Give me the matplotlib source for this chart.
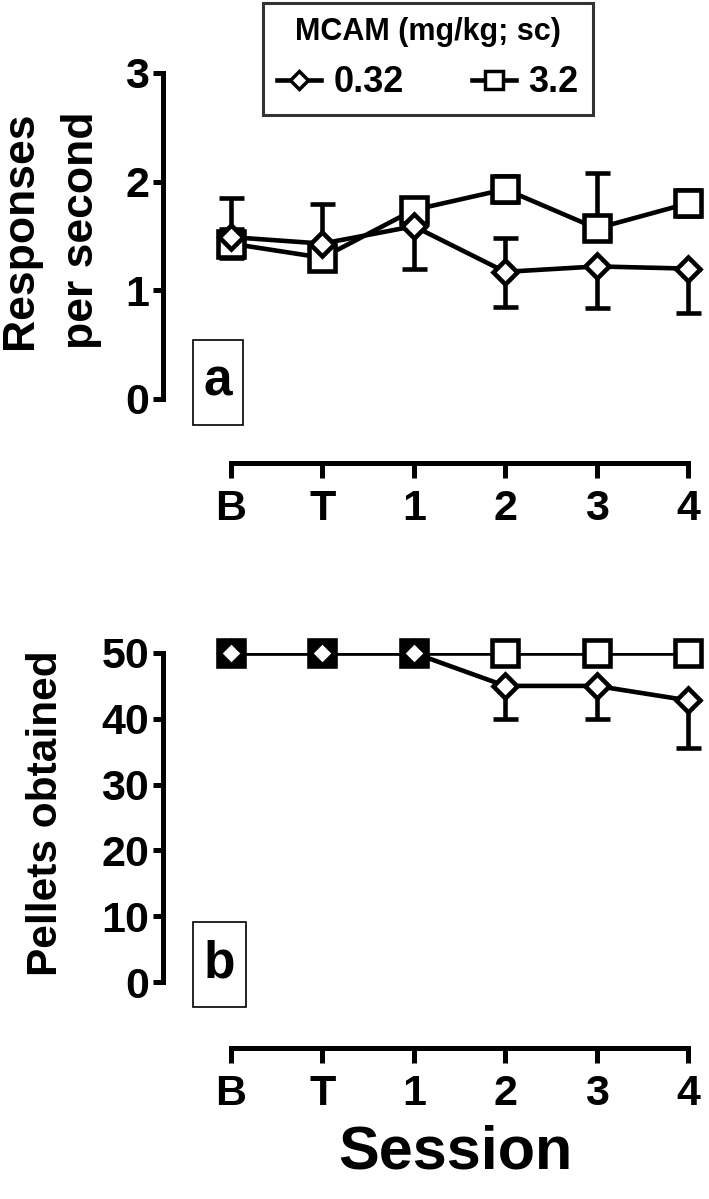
import matplotlib
matplotlib.use("Agg")
import matplotlib.pyplot as plt
from matplotlib.lines import Line2D
from matplotlib.patches import Rectangle

plt.rcParams['font.family'] = ['Liberation Sans', 'DejaVu Sans']
plt.rcParams['font.weight'] = 'bold'

# data
sessions = ['B', 'T', '1', '2', '3', '4']
doses = ['0.32', '3.2']

rate_low = [1.49, 1.43, 1.59, 1.17, 1.22, 1.20]
rate_low_lo = [0, 0, 0.39, 0.32, 0.38, 0.41]
rate_low_hi = [0.36, 0.36, 0, 0.31, 0, 0]
rate_high = [1.43, 1.30, 1.74, 1.93, 1.57, 1.80]
rate_high_lo = [0.13, 0.11, 0, 0.12, 0, 0.12]
rate_high_hi = [0.13, 0.11, 0, 0.12, 0.51, 0.12]

pellets_low = [50, 50, 50, 45, 45, 42.8]
pellets_low_lo = [0, 0, 0, 5, 5, 7.2]
pellets_high = [50, 50, 50, 50, 50, 50]

W, H = 709, 1199
LW = 3.3
AXLW = 3.6
MS_SQ = 18.5
MS_D = 12.5

fig = plt.figure(figsize=(W / 100, H / 100), dpi=100)


def px_axes(left, right, top, bottom):
    return fig.add_axes([left / W, 1 - bottom / H, (right - left) / W, (bottom - top) / H])


def draw_series(ax, x, y, lo, hi, marker, ms, face=None):
    ax.errorbar(x, y, yerr=[lo, hi], fmt='none', ecolor='black', elinewidth=LW,
                capsize=9, capthick=LW, clip_on=False, zorder=3)
    ax.plot(x, y, color='black', lw=LW, clip_on=True, zorder=3)
    if face is None:
        face = ['white'] * len(x)
    for xi, yi, fc in zip(x, y, face):
        ax.plot([xi], [yi], ls='none', marker=marker, ms=ms, mfc=fc, mec='black',
                mew=LW, clip_on=False, zorder=4)


def style_axes(ax, ymax, yticks, outward):
    x_px = 91.4
    ax.set_xlim(-(231 - 163) / x_px, 5 + (700 - 688) / x_px)
    ax.set_ylim(0, ymax)
    for s in ['top', 'right']:
        ax.spines[s].set_visible(False)
    ax.spines['left'].set_linewidth(AXLW)
    ax.spines['bottom'].set_linewidth(AXLW)
    ax.spines['bottom'].set_position(('outward', outward))
    ax.spines['bottom'].set_bounds(0, 5)
    ax.set_xticks(range(len(sessions)))
    ax.set_xticklabels(sessions)
    ax.set_yticks(yticks)
    ax.tick_params(axis='x', length=11, width=AXLW, labelsize=31, pad=8)
    ax.tick_params(axis='y', length=7, width=AXLW, labelsize=31, pad=3)
    ax.patch.set_visible(False)


x = list(range(len(sessions)))

# panel a
ax1 = px_axes(163, 700, 73, 399)
draw_series(ax1, x, rate_high, rate_high_lo, rate_high_hi, 's', MS_SQ)
draw_series(ax1, x, rate_low, rate_low_lo, rate_low_hi, 'D', MS_D)
style_axes(ax1, 3, [0, 1, 2, 3], 46)

# panel b: where both groups sit on top of each other the symbols merge into a dark block
merged = ['black' if a == b else 'white' for a, b in zip(pellets_low, pellets_high)]
ax2 = px_axes(163, 700, 653, 982)
draw_series(ax2, x, pellets_high, [0] * 6, [0] * 6, 's', MS_SQ, face=merged)
draw_series(ax2, x, pellets_low, pellets_low_lo, [0] * 6, 'D', MS_D)
style_axes(ax2, 50, [0, 10, 20, 30, 40, 50], 47.5)

# axis labels
fig.text(21 / W, 1 - 230 / H, 'Responses', rotation=90, ha='center', va='center', fontsize=32)
fig.text(82 / W, 1 - 230 / H, 'per second', rotation=90, ha='center', va='center', fontsize=32)
fig.text(46 / W, 1 - 813 / H, 'Pellets obtained', rotation=90, ha='center', va='center', fontsize=30.5)
fig.text(455 / W, 1 - 1153 / H, 'Session', ha='center', va='center', fontsize=44)

# panel letters
for letter, (l, r, t, b) in [('a', (193, 243, 340, 425)), ('b', (193, 246, 922, 1007))]:
    fig.add_artist(Rectangle((l / W, 1 - b / H), (r - l) / W, (b - t) / H,
                             transform=fig.transFigure, fc='white', ec='black', lw=1.2))
    fig.text((l + r) / 2 / W, 1 - (t + b) / 2 / H, letter, ha='center', va='center', fontsize=37)

# legend
handles = [
    Line2D([], [], color='black', lw=LW, marker='D', ms=9, mfc='white', mec='black', mew=2.5),
    Line2D([], [], color='black', lw=LW, marker='s', ms=13, mfc='white', mec='black', mew=2.5),
]
leg = fig.legend(handles, doses, title='MCAM (mg/kg; sc)', ncol=2, loc='upper left',
                 bbox_to_anchor=(263 / W, 1 - 3 / H), borderaxespad=0, fontsize=26,
                 title_fontsize=22, frameon=True, fancybox=False, edgecolor='black',
                 handlelength=1.2, columnspacing=1.9, borderpad=0.4, handletextpad=0.35)
leg.get_frame().set_linewidth(2.2)
leg.get_title().set_fontweight('bold')

fig.savefig('out.png', dpi=100)
